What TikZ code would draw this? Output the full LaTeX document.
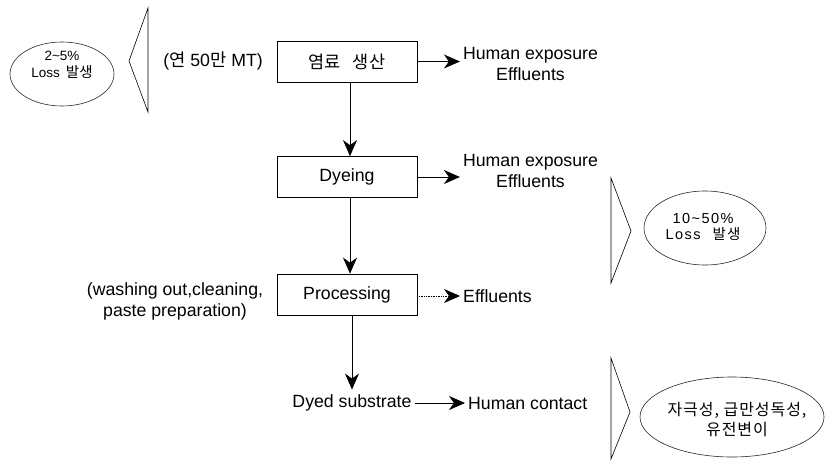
\documentclass[tikz,border=0pt]{standalone}
\usepackage{fontspec}
\setmainfont{Liberation Sans}
\newfontfamily\kr{Noto Sans CJK KR}
\newcommand\K[1]{{\kr #1}}
\usetikzlibrary{shapes.geometric,arrows.meta}
\begin{document}
\begin{tikzpicture}[x=1pt,y=-1pt,
  box/.style={draw, line width=0.7pt, minimum width=140pt, minimum height=41pt, inner sep=0pt, font=\fontsize{17.7}{21}\selectfont},
  lbl/.style={inner sep=0pt, font=\fontsize{17.7}{21}\selectfont, align=center},
  ell/.style={draw=black!85, ellipse, line width=0.6pt, inner sep=0pt},
  etext/.style={inner sep=0pt, align=center},
  arr/.style={line width=0.7pt, -{Stealth[length=16pt,width=14pt,inset=5pt]}},
  tri/.style={draw, line width=0.6pt, line join=miter}
]
\useasboundingbox (0,0) rectangle (825,463);

% process boxes
\node[box] (b1) at (347,61.5) {\kr\fontsize{17.5}{20}\selectfont 염료\hspace{12pt}생산};
\node[box] (b2) at (347,177) {Dyeing};
\node[box] (b3) at (347,294.5) {Processing};
\node[lbl] (ds) at (352,403) {Dyed substrate};

% side labels
\node[lbl] (prod) at (213,61) {(\K{연} 50\K{만} MT)};
\node[lbl] (he1) at (530.5,64) {Human exposure\\Effluents};
\node[lbl] (he2) at (530.5,171) {Human exposure\\Effluents};
\node[lbl, anchor=west] (ef3) at (463,296) {Effluents};
\node[lbl] (wash) at (175,301) {(washing out,cleaning,\\paste preparation)};
\node[lbl, anchor=west] (hc) at (468,403) {Human contact};

% ellipses
\node[ell, minimum width=104pt, minimum height=64pt] (e1) at (62,74) {};
\node[etext, font=\fontsize{13.5}{17}\selectfont] (t1) at (62,65) {2\textasciitilde5\%\\Loss\hspace{6pt}{\kr\fontsize{14.5}{17}\selectfont 발생}};
\node[ell, minimum width=122pt, minimum height=74pt] (e2) at (705,228) {};
\node[etext, font=\fontsize{14.5}{16.5}\selectfont\addfontfeature{LetterSpace=10}] (t2) at (703,227) {10\textasciitilde50\%\\Loss\hspace{12pt}{\kr\addfontfeature{LetterSpace=8}발생}};
\node[ell, minimum width=184pt, minimum height=80pt] (e3) at (732,417) {};
\node[etext, font=\fontsize{16}{20}\selectfont\kr\addfontfeature{LetterSpace=6}] (t3) at (737,420) {자극성, 급만성독성,\\유전변이};

% triangles
\draw[tri] (148,8) -- (129,61) -- (148,112) -- cycle;
\draw[tri] (611,178) -- (631,231) -- (611,283) -- cycle;
\draw[tri] (611,358) -- (630,412) -- (611,459) -- cycle;

% connectors
\draw[arr] ([xshift=3pt]b1.south) -- ([xshift=3pt]b2.north);
\draw[arr] ([xshift=3pt]b2.south) -- ([xshift=3pt]b3.north);
\draw[arr, shorten >=5pt] ([xshift=5pt]b3.south) -- ([xshift=5pt]b3.south |- ds.north);
\draw[arr, shorten >=3pt] (b1.east) -- (b1.east -| he1.west);
\draw[arr, shorten >=3pt] (b2.east) -- (b2.east -| he2.west);
\draw[arr, densely dotted, shorten >=3pt] (b3.east |- ef3.west) -- (ef3.west);
\draw[arr, shorten <=3pt, shorten >=3pt] (ds.east) -- (hc.west);
\end{tikzpicture}
\end{document}
